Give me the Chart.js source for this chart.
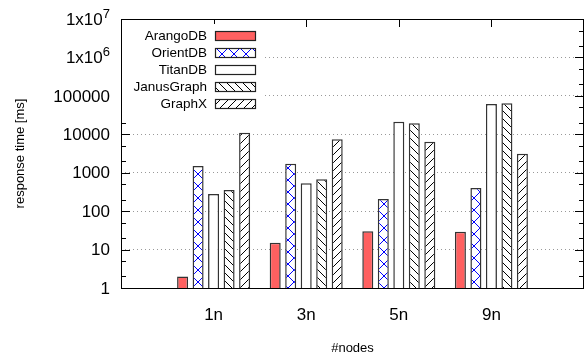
<!DOCTYPE html>
<html>
<head>
<meta charset="utf-8">
<script src="https://cdn.jsdelivr.net/npm/chart.js@4/dist/chart.umd.min.js"></script>
<style>
  body { margin: 0; background: #fff; }
</style>
</head>
<body>
<canvas id="chart" width="585" height="354"></canvas>
<script>
var categories = ['1n', '3n', '5n', '9n'];
var arangoDB = [2, 15, 30, 29];
var orientDB = [1500, 1700, 207, 400];
var titanDB = [280, 530, 21300, 61400];
var janusGraph = [355, 680, 19300, 64000];
var graphX = [11000, 7400, 6400, 3100];
var yTickValues = [1, 10, 100, 1000, 10000, 100000, 1000000, 10000000];
var yTickLabels = ['1', '10', '100', '1000', '10000', '100000', '1x10^6', '1x10^7'];

var FONT = '"Liberation Sans", Arial, sans-serif';
Chart.defaults.font.family = FONT;
Chart.defaults.color = '#000';

// hatch fills like the gnuplot patterns
function makePattern(kind) {
    var s = kind === 'cross' ? 12 : 8;
    var c = document.createElement('canvas');
    c.width = s;
    c.height = s;
    var g = c.getContext('2d');
    g.fillStyle = '#fff';
    g.fillRect(0, 0, s, s);
    g.strokeStyle = kind === 'cross' ? '#0000ff' : '#000';
    g.lineWidth = 1;
    g.beginPath();
    [-s, 0, s].forEach(function(d) {
        if (kind === 'cross' || kind === 'back') {
            g.moveTo(d - 1, -1);
            g.lineTo(d + s + 1, s + 1);
        }
        if (kind === 'cross' || kind === 'fwd') {
            g.moveTo(d - 1, s + 1);
            g.lineTo(d + s + 1, -1);
        }
    });
    g.stroke();
    return g.createPattern(c, 'repeat');
}

function toPoints(values) {
    return values.map(function(v, i) { return {x: i, y: v}; });
}

var ctx = document.getElementById('chart').getContext('2d');

var framePlugin = {
    id: 'frame',
    beforeDatasetsDraw: function(chart) {
        var c = chart.ctx, a = chart.chartArea;
        var ys = chart.scales.y, xs = chart.scales.x;
        c.save();
        c.strokeStyle = '#000';
        c.lineWidth = 1;
        c.beginPath();
        ys.ticks.forEach(function(t) {
            var py = Math.round(ys.getPixelForValue(t.value)) + 0.5;
            var len = t.major ? 9 : 5;
            c.moveTo(a.left, py);
            c.lineTo(a.left + len, py);
            c.moveTo(a.right, py);
            c.lineTo(a.right - len, py);
        });
        xs.ticks.forEach(function(t) {
            var px = Math.round(xs.getPixelForValue(t.value)) + 0.5;
            c.moveTo(px, a.top);
            c.lineTo(px, a.top + 8);
            c.moveTo(px, a.bottom);
            c.lineTo(px, a.bottom - 8);
        });
        c.stroke();
        c.strokeRect(a.left + 0.5, a.top + 0.5, a.right - a.left - 1, a.bottom - a.top);

        // y labels, with "^" written as a superscript
        c.fillStyle = '#000';
        c.textBaseline = 'middle';
        c.textAlign = 'left';
        yTickValues.forEach(function(v, i) {
            var py = ys.getPixelForValue(v);
            var parts = yTickLabels[i].split('^');
            c.font = '17px ' + FONT;
            var w0 = c.measureText(parts[0]).width;
            var w1 = 0;
            if (parts[1]) {
                c.font = '13px ' + FONT;
                w1 = c.measureText(parts[1]).width;
            }
            var x0 = a.left - 11 - w0 - w1;
            c.font = '17px ' + FONT;
            c.fillText(parts[0], x0, py + 1);
            if (parts[1]) {
                c.font = '13px ' + FONT;
                c.fillText(parts[1], x0 + w0, py - 5);
            }
        });
        c.restore();
    },
    afterDatasetsDraw: function(chart) {
        var c = chart.ctx, a = chart.chartArea;
        c.save();
        c.fillStyle = '#fff';
        c.fillRect(a.left + 1, a.top + 5, 140, 88);
        c.font = '13.5px ' + FONT;
        c.textAlign = 'right';
        c.textBaseline = 'middle';
        chart.data.datasets.forEach(function(ds, i) {
            var cy = a.top + 17 + i * 17;
            c.fillStyle = '#000';
            c.fillText(ds.label, a.left + 86, cy);
            c.fillStyle = ds.backgroundColor;
            c.fillRect(a.left + 94, cy - 4, 40, 8);
            c.strokeStyle = '#222';
            c.lineWidth = 1.2;
            c.strokeRect(a.left + 94.5, cy - 4.5, 40, 9);
        });
        c.restore();
    }
};

new Chart(ctx, {
    type: 'bar',
    data: {
        datasets: [
            { label: 'ArangoDB', data: toPoints(arangoDB), backgroundColor: '#ff6060' },
            { label: 'OrientDB', data: toPoints(orientDB), backgroundColor: makePattern('cross') },
            { label: 'TitanDB', data: toPoints(titanDB), backgroundColor: '#ffffff' },
            { label: 'JanusGraph', data: toPoints(janusGraph), backgroundColor: makePattern('back') },
            { label: 'GraphX', data: toPoints(graphX), backgroundColor: makePattern('fwd') }
        ]
    },
    options: {
        responsive: false,
        animation: false,
        layout: { padding: { top: 19, right: 1, left: 0, bottom: 0 } },
        datasets: {
            bar: {
                borderColor: '#333',
                borderWidth: 1.5,
                categoryPercentage: 0.837,
                barPercentage: 0.71
            }
        },
        plugins: {
            legend: { display: false },
            tooltip: { enabled: false }
        },
        scales: {
            x: {
                type: 'linear',
                offset: false,
                min: -1,
                max: 4,
                afterBuildTicks: function(scale) {
                    scale.ticks = categories.map(function(c, i) { return {value: i}; });
                },
                afterFit: function(scale) { scale.height = 66; },
                grid: { display: false, drawTicks: false, offset: false },
                border: { display: false },
                ticks: {
                    autoSkip: false,
                    maxRotation: 0,
                    padding: 17,
                    font: { size: 17 },
                    callback: function(value) { return categories[value]; }
                },
                title: {
                    display: true,
                    text: '#nodes',
                    font: { size: 13, lineHeight: 0.9 },
                    padding: { top: 0, bottom: 0 }
                }
            },
            y: {
                type: 'logarithmic',
                min: 1,
                max: 10000000,
                afterBuildTicks: function(scale) {
                    var ticks = [];
                    yTickValues.forEach(function(v, i) {
                        ticks.push({value: v, major: true});
                        if (i < yTickValues.length - 1) {
                            ticks.push({value: v * 2});
                            ticks.push({value: v * 5});
                        }
                    });
                    scale.ticks = ticks;
                },
                afterFit: function(scale) { scale.width = 121; },
                grid: {
                    drawTicks: false,
                    lineWidth: 1,
                    color: function(c) {
                        return c.tick && c.tick.major ? '#999' : 'rgba(0,0,0,0)';
                    }
                },
                border: { display: false, dash: [1, 3] },
                ticks: { display: false, autoSkip: false },
                title: {
                    display: true,
                    text: 'response time [ms]',
                    font: { size: 13 },
                    padding: { top: 13, bottom: 0 }
                }
            }
        }
    },
    plugins: [framePlugin]
});
</script>
</body>
</html>
